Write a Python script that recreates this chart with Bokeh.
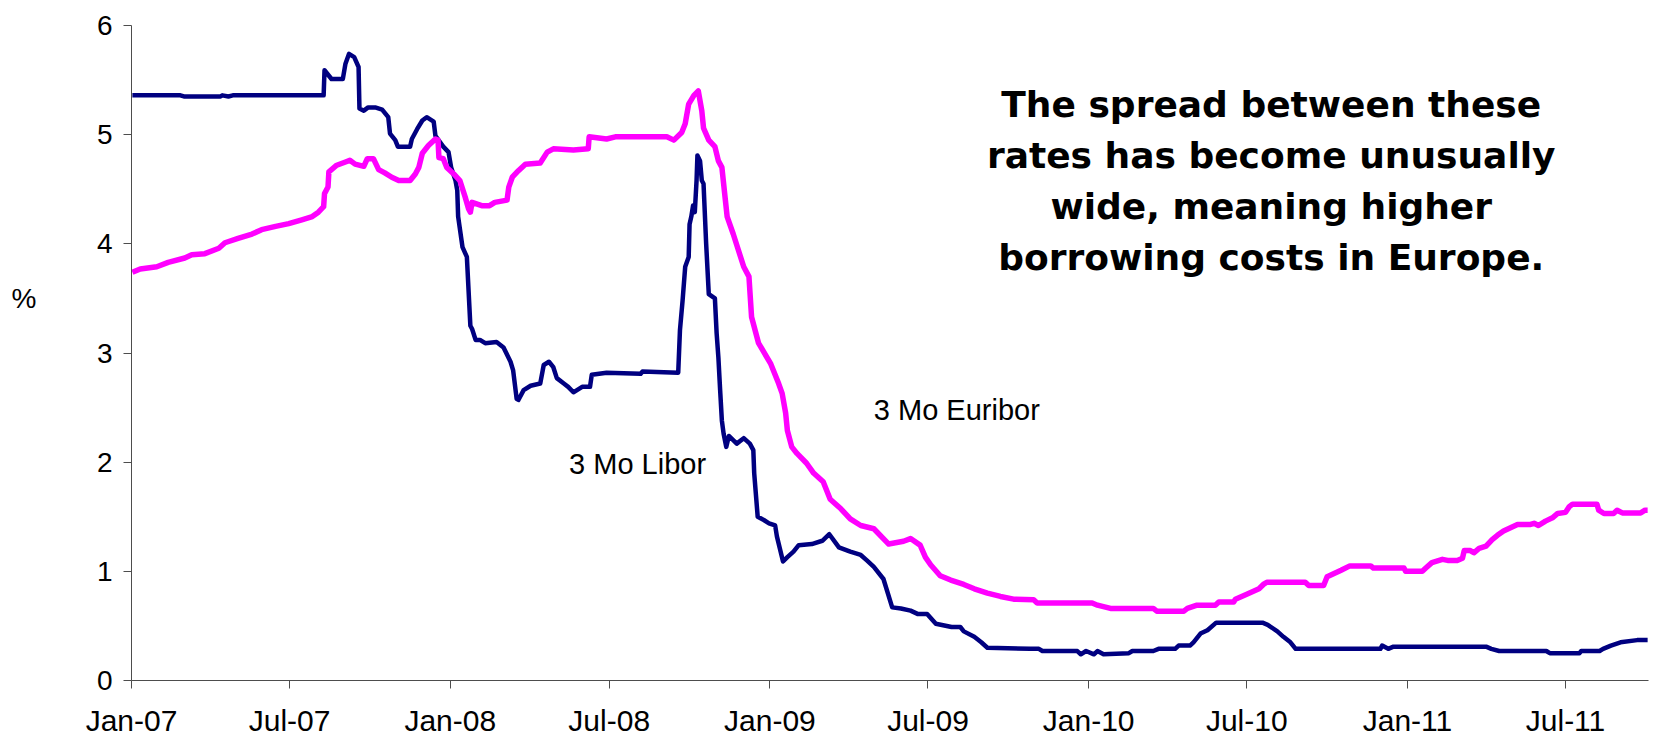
import pandas as pd
from bokeh.plotting import figure
from bokeh.models import Range1d, FixedTicker, Label, LinearAxis
from bokeh.embed import file_html
from bokeh.resources import INLINE

# 3-month interbank rates, %
libor_dates = [
    "2007-01-02", "2007-02-26", "2007-03-02", "2007-04-13", "2007-04-15", "2007-04-22",
    "2007-04-27", "2007-08-09", "2007-08-10", "2007-08-18", "2007-08-31", "2007-09-03",
    "2007-09-07", "2007-09-13", "2007-09-18", "2007-09-19", "2007-09-24", "2007-09-29",
    "2007-10-07", "2007-10-15", "2007-10-22", "2007-10-24", "2007-10-30", "2007-11-02",
    "2007-11-16", "2007-11-18", "2007-11-24", "2007-11-30", "2007-12-05", "2007-12-13",
    "2007-12-15", "2007-12-24", "2007-12-30", "2008-01-02", "2008-01-07", "2008-01-09",
    "2008-01-10", "2008-01-15", "2008-01-20", "2008-01-24", "2008-01-26", "2008-01-30",
    "2008-02-04", "2008-02-10", "2008-02-23", "2008-03-02", "2008-03-10", "2008-03-13",
    "2008-03-17", "2008-03-19", "2008-03-25", "2008-04-02", "2008-04-13", "2008-04-17",
    "2008-04-23", "2008-04-28", "2008-05-02", "2008-05-10", "2008-05-15", "2008-05-21",
    "2008-05-31", "2008-06-09", "2008-06-11", "2008-06-28", "2008-08-06", "2008-08-08",
    "2008-09-18", "2008-09-20", "2008-09-23", "2008-09-26", "2008-09-30", "2008-10-01",
    "2008-10-03", "2008-10-05", "2008-10-07", "2008-10-09", "2008-10-10", "2008-10-13",
    "2008-10-15", "2008-10-17", "2008-10-20", "2008-10-23", "2008-10-30", "2008-11-01",
    "2008-11-03", "2008-11-05", "2008-11-07", "2008-11-09", "2008-11-12", "2008-11-15",
    "2008-11-24", "2008-12-02", "2008-12-09", "2008-12-13", "2008-12-14", "2008-12-18",
    "2008-12-25", "2008-12-31", "2009-01-07", "2009-01-09", "2009-01-16", "2009-01-21",
    "2009-01-28", "2009-02-03", "2009-02-18", "2009-03-02", "2009-03-10", "2009-03-21",
    "2009-04-03", "2009-04-15", "2009-04-22", "2009-04-30", "2009-05-11", "2009-05-21",
    "2009-05-31", "2009-06-11", "2009-06-19", "2009-06-30", "2009-07-10", "2009-07-28",
    "2009-08-07", "2009-08-11", "2009-08-23", "2009-08-31", "2009-09-07", "2009-10-26",
    "2009-11-05", "2009-11-09", "2009-12-19", "2009-12-23", "2009-12-29", "2010-01-07",
    "2010-01-11", "2010-01-18", "2010-02-16", "2010-02-20", "2010-03-16", "2010-03-22",
    "2010-04-10", "2010-04-14", "2010-04-27", "2010-05-01", "2010-05-09", "2010-05-17",
    "2010-05-27", "2010-07-19", "2010-07-25", "2010-08-05", "2010-08-12", "2010-08-20",
    "2010-08-26", "2010-12-01", "2010-12-03", "2010-12-10", "2010-12-16", "2011-04-01",
    "2011-04-07", "2011-04-16", "2011-06-09", "2011-06-13", "2011-07-17", "2011-07-19",
    "2011-08-09", "2011-08-13", "2011-08-22", "2011-09-02", "2011-09-21", "2011-10-03",
]
libor_rates = [
    5.36, 5.36, 5.35, 5.35, 5.36, 5.35,
    5.36, 5.36, 5.59, 5.51, 5.51, 5.65,
    5.74, 5.71, 5.62, 5.24, 5.22, 5.25,
    5.25, 5.23, 5.16, 5.01, 4.95, 4.89,
    4.89, 4.96, 5.05, 5.13, 5.16, 5.12,
    4.99, 4.89, 4.84, 4.70, 4.58, 4.49,
    4.25, 3.97, 3.88, 3.25, 3.22, 3.12,
    3.12, 3.09, 3.10, 3.05, 2.92, 2.84,
    2.58, 2.57, 2.66, 2.70, 2.72, 2.89,
    2.92, 2.87, 2.77, 2.72, 2.69, 2.64,
    2.69, 2.69, 2.80, 2.82, 2.81, 2.83,
    2.82, 3.21, 3.48, 3.79, 3.88, 4.18,
    4.25, 4.35, 4.29, 4.58, 4.81, 4.76,
    4.58, 4.55, 4.00, 3.54, 3.50, 3.18,
    2.96, 2.66, 2.38, 2.26, 2.14, 2.24,
    2.17, 2.22, 2.17, 2.11, 1.90, 1.50,
    1.47, 1.44, 1.42, 1.32, 1.09, 1.13,
    1.18, 1.24, 1.25, 1.28, 1.34, 1.22,
    1.18, 1.15, 1.10, 1.04, 0.93, 0.67,
    0.66, 0.64, 0.61, 0.61, 0.52, 0.49,
    0.49, 0.45, 0.40, 0.35, 0.30, 0.29,
    0.29, 0.27, 0.27, 0.24, 0.27, 0.24,
    0.27, 0.24, 0.25, 0.27, 0.27, 0.29,
    0.29, 0.32, 0.32, 0.35, 0.43, 0.46,
    0.53, 0.53, 0.51, 0.45, 0.40, 0.35,
    0.29, 0.29, 0.32, 0.29, 0.31, 0.31,
    0.29, 0.27, 0.27, 0.25, 0.25, 0.27,
    0.27, 0.29, 0.32, 0.35, 0.37, 0.37,
]

euribor_dates = [
    "2007-01-02", "2007-01-11", "2007-01-30", "2007-02-12", "2007-03-03", "2007-03-11",
    "2007-03-26", "2007-04-11", "2007-04-18", "2007-05-03", "2007-05-19", "2007-05-30",
    "2007-06-15", "2007-06-30", "2007-07-15", "2007-07-27", "2007-08-03", "2007-08-09",
    "2007-08-10", "2007-08-14", "2007-08-15", "2007-08-24", "2007-09-03", "2007-09-08",
    "2007-09-14", "2007-09-24", "2007-09-28", "2007-10-05", "2007-10-11", "2007-10-18",
    "2007-10-26", "2007-11-03", "2007-11-16", "2007-11-22", "2007-11-26", "2007-11-30",
    "2007-12-07", "2007-12-15", "2007-12-18", "2007-12-19", "2007-12-24", "2007-12-28",
    "2008-01-05", "2008-01-12", "2008-01-18", "2008-01-22", "2008-01-24", "2008-01-26",
    "2008-02-06", "2008-02-15", "2008-02-21", "2008-03-06", "2008-03-08", "2008-03-12",
    "2008-03-19", "2008-03-27", "2008-04-13", "2008-04-21", "2008-04-28", "2008-05-21",
    "2008-06-07", "2008-06-08", "2008-06-28", "2008-07-08", "2008-09-05", "2008-09-13",
    "2008-09-22", "2008-09-26", "2008-09-30", "2008-10-06", "2008-10-11", "2008-10-15",
    "2008-10-17", "2008-10-23", "2008-10-30", "2008-11-03", "2008-11-07", "2008-11-11",
    "2008-11-13", "2008-11-20", "2008-12-02", "2008-12-08", "2008-12-11", "2008-12-19",
    "2009-01-02", "2009-01-11", "2009-01-15", "2009-01-19", "2009-01-21", "2009-01-26",
    "2009-02-01", "2009-02-12", "2009-02-20", "2009-03-03", "2009-03-11", "2009-03-23",
    "2009-04-03", "2009-04-15", "2009-04-30", "2009-05-17", "2009-06-03", "2009-06-11",
    "2009-06-22", "2009-06-28", "2009-07-04", "2009-07-15", "2009-07-27", "2009-08-11",
    "2009-08-23", "2009-09-07", "2009-09-22", "2009-10-07", "2009-10-30", "2009-11-03",
    "2010-01-05", "2010-01-11", "2010-01-26", "2010-03-16", "2010-03-20", "2010-04-20",
    "2010-04-24", "2010-05-05", "2010-05-26", "2010-05-30", "2010-06-16", "2010-06-18",
    "2010-07-01", "2010-07-15", "2010-07-20", "2010-07-24", "2010-09-06", "2010-09-10",
    "2010-09-27", "2010-10-01", "2010-10-09", "2010-10-17", "2010-10-27", "2010-11-20",
    "2010-11-23", "2010-12-28", "2010-12-30", "2011-01-18", "2011-01-22", "2011-01-29",
    "2011-02-10", "2011-02-16", "2011-02-27", "2011-03-05", "2011-03-07", "2011-03-14",
    "2011-03-18", "2011-03-24", "2011-04-01", "2011-04-08", "2011-04-14", "2011-04-21",
    "2011-05-07", "2011-05-22", "2011-05-26", "2011-05-31", "2011-06-08", "2011-06-16",
    "2011-06-22", "2011-07-01", "2011-07-05", "2011-07-09", "2011-08-06", "2011-08-08",
    "2011-08-14", "2011-08-25", "2011-08-29", "2011-09-04", "2011-09-25", "2011-09-30",
    "2011-10-03",
]
euribor_rates = [
    3.74, 3.77, 3.79, 3.83, 3.87, 3.90,
    3.91, 3.96, 4.01, 4.05, 4.09, 4.13,
    4.16, 4.185, 4.22, 4.25, 4.29, 4.34,
    4.46, 4.52, 4.66, 4.72, 4.75, 4.765,
    4.73, 4.71, 4.78, 4.78, 4.68, 4.65,
    4.61, 4.58, 4.58, 4.64, 4.70, 4.83,
    4.90, 4.96, 4.95, 4.79, 4.78, 4.70,
    4.64, 4.58, 4.43, 4.32, 4.29, 4.38,
    4.35, 4.35, 4.38, 4.40, 4.52, 4.61,
    4.67, 4.73, 4.74, 4.84, 4.87, 4.86,
    4.87, 4.98, 4.96, 4.98, 4.98, 4.95,
    5.02, 5.10, 5.28, 5.36, 5.40, 5.22,
    5.06, 4.95, 4.89, 4.76, 4.70, 4.40,
    4.25, 4.09, 3.79, 3.70, 3.33, 3.09,
    2.90, 2.72, 2.63, 2.45, 2.29, 2.14,
    2.08, 1.99, 1.90, 1.82, 1.66, 1.575,
    1.48, 1.42, 1.39, 1.25, 1.275, 1.30,
    1.24, 1.13, 1.06, 0.96, 0.92, 0.88,
    0.84, 0.80, 0.77, 0.745, 0.74, 0.71,
    0.71, 0.69, 0.66, 0.66, 0.635, 0.635,
    0.66, 0.69, 0.69, 0.72, 0.72, 0.745,
    0.79, 0.84, 0.88, 0.90, 0.90, 0.87,
    0.87, 0.95, 0.98, 1.01, 1.05, 1.05,
    1.03, 1.03, 1.00, 1.00, 1.03, 1.08,
    1.11, 1.10, 1.10, 1.12, 1.19, 1.19,
    1.17, 1.21, 1.23, 1.29, 1.33, 1.37,
    1.43, 1.43, 1.44, 1.42, 1.46, 1.49,
    1.53, 1.54, 1.59, 1.615, 1.615, 1.56,
    1.53, 1.53, 1.56, 1.535, 1.535, 1.56,
    1.56,
]

tick_dates = ["2007-01-01", "2007-07-01", "2008-01-01", "2008-07-01", "2009-01-01",
              "2009-07-01", "2010-01-01", "2010-07-01", "2011-01-01", "2011-07-01"]
tick_labels = ["Jan-07", "Jul-07", "Jan-08", "Jul-08", "Jan-09",
               "Jul-09", "Jan-10", "Jul-10", "Jan-11", "Jul-11"]
y_ticks = [0, 1, 2, 3, 4, 5, 6]

series_names = ["3 Mo Libor", "3 Mo Euribor"]
unit_label = "%"
note_lines = ["The spread between these",
              "rates has become unusually",
              "wide, meaning higher",
              "borrowing costs in Europe."]

FONT = "Liberation Sans"


def to_ms(dates):
    ts = pd.to_datetime(dates)
    return [int((t - pd.Timestamp("1970-01-01")) // pd.Timedelta(milliseconds=1)) for t in ts]


p = figure(
    width=1654, height=739,
    x_axis_type="datetime",
    x_range=Range1d(pd.Timestamp("2007-01-01"), pd.Timestamp("2011-10-04")),
    y_range=Range1d(0, 6),
    output_backend="svg", toolbar_location=None,
    min_border_left=131, min_border_right=6, min_border_top=25, min_border_bottom=59,
)
p.outline_line_color = None
p.xgrid.visible = False
p.ygrid.visible = False
p.background_fill_color = "white"
p.border_fill_color = "white"

# axes
tick_ms = to_ms(tick_dates)
p.xaxis.ticker = FixedTicker(ticks=tick_ms)
p.xaxis.major_label_overrides = {t: lab for t, lab in zip(tick_ms, tick_labels)}
p.yaxis.ticker = FixedTicker(ticks=y_ticks)
for ax in (p.xaxis[0], p.yaxis[0]):
    ax.axis_line_color = "#4d4d4d"
    ax.axis_line_width = 1
    ax.major_tick_line_color = "#4d4d4d"
    ax.major_tick_in = 0
    ax.major_tick_out = 8
    ax.minor_tick_line_color = None
    ax.major_label_text_font = FONT
    ax.major_label_text_color = "black"
p.xaxis.major_label_text_font_size = "30px"
p.xaxis.major_label_standoff = 15
p.yaxis.major_label_text_font_size = "28px"
p.yaxis.major_label_standoff = 11

# bare outer axis that only carries the "%" caption beside the value scale
unit_axis = LinearAxis(
    ticker=FixedTicker(ticks=[3.5]),
    major_label_overrides={3.5: unit_label},
    axis_line_color=None, major_tick_line_color=None, minor_tick_line_color=None,
    major_tick_in=0, major_tick_out=0, major_label_standoff=57,
    major_label_text_font=FONT, major_label_text_font_size="28px",
    major_label_text_color="black",
)
p.add_layout(unit_axis, "left")

# series
libor_x = pd.to_datetime(libor_dates)
euribor_x = pd.to_datetime(euribor_dates)
p.line(libor_x, libor_rates, line_color="#000080", line_width=4.5, line_join="round")
p.line(euribor_x, euribor_rates, line_color="#FF00FF", line_width=5.5, line_join="round")

# series labels
p.add_layout(Label(x=pd.Timestamp("2008-05-16"), y=1.98, text=series_names[0],
                   text_font=FONT, text_font_size="29px", text_align="left",
                   text_baseline="alphabetic", text_color="black"))
p.add_layout(Label(x=pd.Timestamp("2009-04-30"), y=2.477, text=series_names[1],
                   text_font=FONT, text_font_size="29px", text_align="left",
                   text_baseline="alphabetic", text_color="black"))

# commentary
note_y = [5.277, 4.81, 4.343, 3.876]
for line, yy in zip(note_lines, note_y):
    p.add_layout(Label(x=pd.Timestamp("2010-07-29"), y=yy, text=line,
                       text_font="DejaVu Sans", text_font_style="bold",
                       text_font_size="36px", text_align="center",
                       text_baseline="alphabetic", text_color="black"))

open("out.html", "w").write(file_html(p, INLINE))
